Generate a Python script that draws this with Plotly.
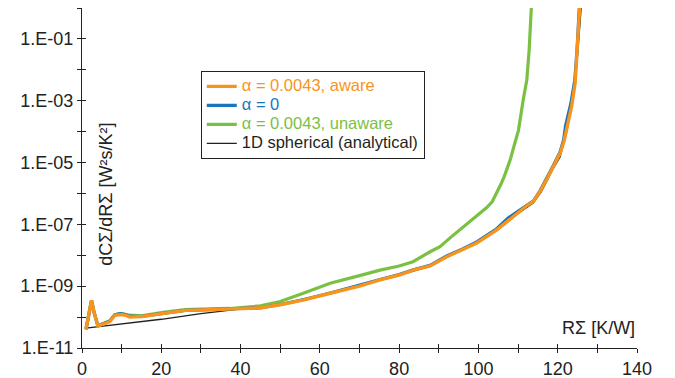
import plotly.graph_objects as go

# ---- data ----
x_aware = [1.0, 1.7, 2.4, 3.0, 4.0, 5.5, 7.0, 8.3, 10.0, 11.0, 12.0, 15.0, 20.0, 26.0, 30.0,
           40.0, 45.0, 50.0, 56.0, 62.6, 70.0, 75.2, 80.0, 83.6, 87.8, 92.0, 96.0, 99.6,
           104.6, 107.5, 109.7, 112.2, 113.9, 115.5, 117.2, 118.9, 120.6, 121.6, 122.3, 123.5,
           124.4, 124.95, 125.6]
y_aware = [4.0e-11, 1.2e-10, 3.5e-10, 1.5e-10, 5.2e-11, 6.0e-11, 7.2e-11, 1.15e-10, 1.2e-10,
           1.15e-10, 1.0e-10, 1.05e-10, 1.3e-10, 1.65e-10, 1.7e-10, 1.85e-10, 2.0e-10, 2.5e-10,
           3.6e-10, 5.9e-10, 1.0e-9, 1.6e-9, 2.3e-9, 3.3e-9, 4.5e-9, 9.0e-9, 1.5e-8, 2.5e-8,
           6.6e-8, 1.3e-7, 2.3e-7, 4.0e-7, 5.6e-7, 1.15e-6, 2.8e-6, 7.4e-6, 2.0e-5, 5.0e-5,
           1.4e-4, 6.5e-4, 3.7e-3, 4.4e-2, 1.4]

x_zero = [1.0, 1.7, 2.4, 3.0, 4.0, 5.5, 7.0, 8.3, 9.6, 11.0, 12.0, 15.0, 20.0, 26.0, 30.0,
          40.0, 45.0, 50.0, 56.0, 62.6, 70.0, 75.2, 80.0, 83.6, 87.8, 92.0, 96.0, 99.6,
          104.6, 107.5, 109.7, 112.2, 113.9, 115.5, 117.2, 118.9, 120.6, 121.5, 122.0, 123.3,
          124.3, 124.9, 125.5]
y_zero = [4.0e-11, 1.2e-10, 3.4e-10, 1.5e-10, 5.3e-11, 6.2e-11, 7.5e-11, 1.2e-10, 1.3e-10,
          1.2e-10, 1.05e-10, 1.05e-10, 1.3e-10, 1.65e-10, 1.7e-10, 1.85e-10, 2.0e-10, 2.55e-10,
          3.7e-10, 6.0e-10, 1.05e-9, 1.65e-9, 2.4e-9, 3.4e-9, 4.7e-9, 9.5e-9, 1.6e-8, 2.7e-8,
          7.2e-8, 1.6e-7, 2.5e-7, 4.2e-7, 5.8e-7, 1.2e-6, 3.0e-6, 8.0e-6, 2.2e-5, 5.5e-5,
          1.6e-4, 8.0e-4, 4.5e-3, 5.0e-2, 1.4]

x_unaware = [1.0, 1.7, 2.4, 3.0, 4.0, 5.5, 7.0, 8.3, 10.0, 12.0, 15.0, 20.0, 26.0, 30.0,
             37.3, 45.0, 50.0, 56.0, 62.6, 70.0, 75.2, 80.0, 83.5, 87.8, 90.3, 93.0, 96.2,
             99.6, 102.1, 103.5, 104.6, 105.6, 106.5, 107.3, 108.0, 109.0, 110.1, 111.3, 112.2,
             112.8, 113.4]
y_unaware = [4.0e-11, 1.2e-10, 3.4e-10, 1.5e-10, 5.3e-11, 6.2e-11, 7.5e-11, 1.2e-10, 1.3e-10,
             1.15e-10, 1.1e-10, 1.4e-10, 1.75e-10, 1.8e-10, 1.9e-10, 2.3e-10, 3.2e-10, 6.0e-10,
             1.24e-9, 2.2e-9, 3.3e-9, 4.5e-9, 6.2e-9, 1.3e-8, 1.9e-8, 3.8e-8, 8.5e-8,
             2.0e-7, 3.5e-7, 5.5e-7, 1.0e-6, 1.9e-6, 3.5e-6, 6.5e-6, 1.2e-5, 3.5e-5, 1.1e-4,
             1.07e-3, 4.7e-3, 4.4e-2, 1.4]

x_analytic = [1.0, 10.0, 20.0, 30.0, 40.0, 45.0, 50.0, 55.0, 62.6, 70.0, 75.2, 80.0, 87.8, 92.0,
              96.0, 99.6, 104.6, 109.7, 113.9, 115.8, 117.2, 118.9, 120.6, 122.3, 123.8, 124.9,
              125.5, 126.0]
y_analytic = [4.4e-11, 6.0e-11, 8.5e-11, 1.3e-10, 1.85e-10, 2.1e-10, 2.6e-10, 3.6e-10, 5.8e-10,
              1.0e-9, 1.6e-9, 2.3e-9, 4.4e-9, 8.5e-9, 1.45e-8, 2.4e-8, 6.2e-8, 2.1e-7, 5.0e-7,
              1.1e-6, 2.4e-6, 6.5e-6, 1.5e-5, 1.0e-4, 1.2e-3, 2.0e-2, 0.2, 1.4]

x_tickvals = list(range(0, 141, 10))
x_ticktext = [str(v) if v % 20 == 0 else "" for v in x_tickvals]
y_exponents = list(range(-11, 1))
y_tickvals = [10.0 ** e for e in y_exponents]
y_ticktext = [("1.E-%02d" % (-e)) if e % 2 != 0 else "" for e in y_exponents]

ORANGE = "#F7941D"
BLUE = "#1B75BC"
GREEN = "#7AC143"
BLACK = "#231F20"
FONT = "Liberation Sans, Arial, sans-serif"


def legend_label(text, color):
    return "<span style='color:%s;font-size:16.5px'>%s</span>" % (color, text)


fig = go.Figure()
fig.add_trace(go.Scatter(x=x_analytic, y=y_analytic, mode="lines",
                         line=dict(color=BLACK, width=1.3),
                         name=legend_label("1D spherical (analytical)", BLACK), legendrank=4))
fig.add_trace(go.Scatter(x=x_unaware, y=y_unaware, mode="lines",
                         line=dict(color=GREEN, width=3.2),
                         name=legend_label("α = 0.0043, unaware", GREEN), legendrank=3))
fig.add_trace(go.Scatter(x=x_zero, y=y_zero, mode="lines",
                         line=dict(color=BLUE, width=3.2),
                         name=legend_label("α = 0", BLUE), legendrank=2))
fig.add_trace(go.Scatter(x=x_aware, y=y_aware, mode="lines",
                         line=dict(color=ORANGE, width=3.4),
                         name=legend_label("α = 0.0043, aware", ORANGE), legendrank=1))
# invisible trace to carry the inner-tick overlay axes
fig.add_trace(go.Scatter(x=[0, 140], y=[1e-11, 1], xaxis="x2", yaxis="y2", mode="lines",
                         line=dict(width=0), showlegend=False, hoverinfo="skip"))

fig.update_layout(
    width=675, height=378,
    margin=dict(l=82, r=38, t=8, b=30),
    paper_bgcolor="white", plot_bgcolor="white",
    font=dict(family=FONT, size=18, color="#222"),
    showlegend=True,
    legend=dict(x=0.214, y=0.815, xanchor="left", yanchor="top",
                bordercolor="#222", borderwidth=1, bgcolor="white",
                font=dict(family=FONT, size=12, color="#222"),
                tracegroupgap=0, itemwidth=30),
    xaxis=dict(range=[0, 140], tickmode="array", tickvals=x_tickvals, ticktext=x_ticktext,
               ticks="outside", ticklen=4, tickcolor="#222", showline=True, linecolor="#222",
               linewidth=1, showgrid=False, zeroline=False, tickfont=dict(size=18),
               automargin=False),
    yaxis=dict(type="log", range=[-11, 0], tickmode="array", tickvals=y_tickvals,
               ticktext=y_ticktext, ticks="outside", ticklen=4, tickcolor="#222",
               showline=True, linecolor="#222", linewidth=1, showgrid=False, zeroline=False,
               tickfont=dict(size=18), automargin=False),
    xaxis2=dict(overlaying="x", anchor="y2", range=[0, 140], tickmode="array",
                tickvals=x_tickvals, ticks="inside", ticklen=4, tickcolor="#222",
                showticklabels=False, showline=False, showgrid=False, zeroline=False,
                automargin=False),
    yaxis2=dict(overlaying="y", anchor="x2", type="log", range=[-11, 0], tickmode="array",
                tickvals=y_tickvals, ticks="inside", ticklen=4, tickcolor="#222",
                showticklabels=False, showline=False, showgrid=False, zeroline=False,
                automargin=False),
    annotations=[
        dict(text="RΣ [K/W]", xref="paper", yref="paper", x=1.0, y=0.059,
             xanchor="right", yanchor="middle", showarrow=False,
             font=dict(family=FONT, size=18, color="#222")),
        dict(text="dCΣ/dRΣ [W²s/K²]", xref="paper", yref="paper", x=0.043, y=0.453,
             xanchor="center", yanchor="middle", textangle=-90, showarrow=False,
             font=dict(family=FONT, size=18, color="#222")),
    ],
)

fig.write_html("out.html")
